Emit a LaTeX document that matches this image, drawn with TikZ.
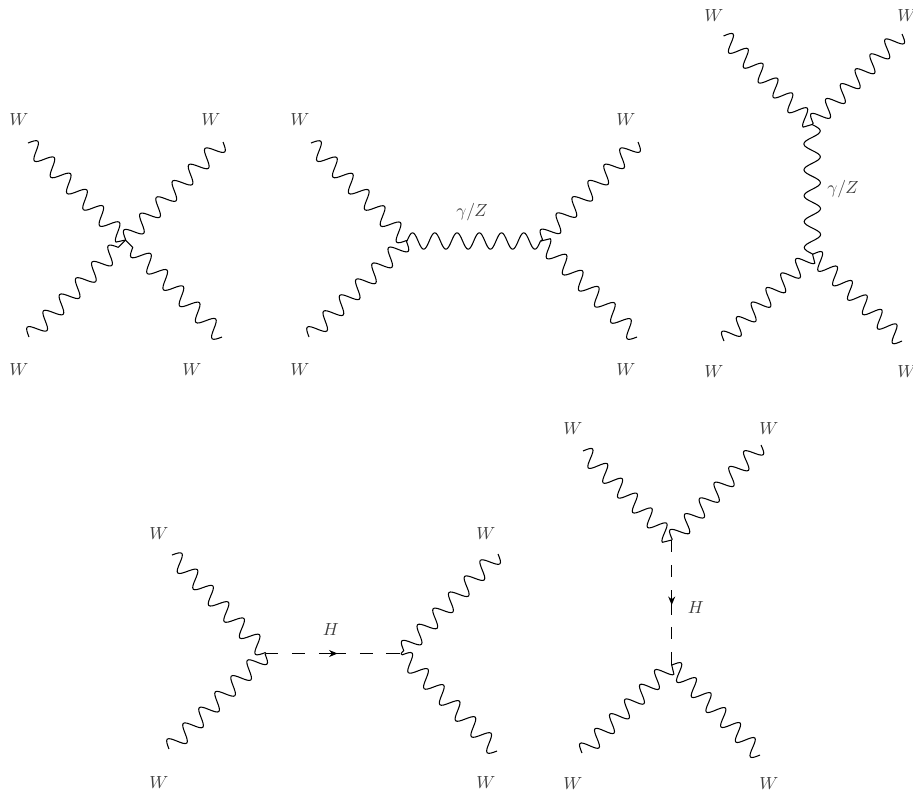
\documentclass[tikz,border=0pt]{standalone}
\usetikzlibrary{decorations,decorations.markings,arrows.meta}
\pgfdeclaredecoration{wiggly}{initial}{
	\state{initial}[width=.25\pgfdecorationsegmentlength, next state=down]{
		\pgfpathcurveto{\pgfpoint{.0815\pgfdecorationsegmentlength}{.5123\pgfdecorationsegmentamplitude}}{\pgfpoint{.1595\pgfdecorationsegmentlength}{\pgfdecorationsegmentamplitude}}{\pgfpoint{.25\pgfdecorationsegmentlength}{\pgfdecorationsegmentamplitude}}
	}
	\state{down}[switch if less than=.7\pgfdecorationsegmentlength to enddown, width=.5\pgfdecorationsegmentlength, next state=up]{
		\pgfpathcurveto{\pgfpoint{.0905\pgfdecorationsegmentlength}{\pgfdecorationsegmentamplitude}}{\pgfpoint{.1685\pgfdecorationsegmentlength}{.5123\pgfdecorationsegmentamplitude}}{\pgfpoint{.25\pgfdecorationsegmentlength}{0pt}}
		\pgfpathcurveto{\pgfpoint{.3315\pgfdecorationsegmentlength}{-.5123\pgfdecorationsegmentamplitude}}{\pgfpoint{.4095\pgfdecorationsegmentlength}{-\pgfdecorationsegmentamplitude}}{\pgfpoint{.5\pgfdecorationsegmentlength}{-\pgfdecorationsegmentamplitude}}
	}
	\state{up}[switch if less than=.7\pgfdecorationsegmentlength to endup, width=.5\pgfdecorationsegmentlength, next state=down]{
		\pgfpathcurveto{\pgfpoint{.0905\pgfdecorationsegmentlength}{-\pgfdecorationsegmentamplitude}}{\pgfpoint{.1685\pgfdecorationsegmentlength}{-.5123\pgfdecorationsegmentamplitude}}{\pgfpoint{.25\pgfdecorationsegmentlength}{0pt}}
		\pgfpathcurveto{\pgfpoint{.3315\pgfdecorationsegmentlength}{.5123\pgfdecorationsegmentamplitude}}{\pgfpoint{.4095\pgfdecorationsegmentlength}{\pgfdecorationsegmentamplitude}}{\pgfpoint{.5\pgfdecorationsegmentlength}{\pgfdecorationsegmentamplitude}}
	}
	\state{enddown}[width=.25\pgfdecorationsegmentlength, next state=final]{
		\pgfpathcurveto{\pgfpoint{.0905\pgfdecorationsegmentlength}{\pgfdecorationsegmentamplitude}}{\pgfpoint{.1685\pgfdecorationsegmentlength}{.5123\pgfdecorationsegmentamplitude}}{\pgfpoint{.25\pgfdecorationsegmentlength}{0pt}}
	}
	\state{endup}[width=.25\pgfdecorationsegmentlength, next state=final]{
		\pgfpathcurveto{\pgfpoint{.0905\pgfdecorationsegmentlength}{-\pgfdecorationsegmentamplitude}}{\pgfpoint{.1685\pgfdecorationsegmentlength}{-.5123\pgfdecorationsegmentamplitude}}{\pgfpoint{.25\pgfdecorationsegmentlength}{0pt}}
	}
	\state{final}{\pgfpathlineto{\pgfpointdecoratedpathlast}}
}
\tikzset{
	wboson/.style={decorate, decoration={wiggly, segment length=#1, amplitude=0.165cm}},
	wboson/.default=0.455cm,
	higgsarrow/.style={postaction={decorate},
		decoration={markings, mark=at position #1 with {\arrow{Stealth[length=0.17cm, width=0.14cm]}}}},
	lab/.style={text=black!75, inner sep=0pt},
}
\begin{document}
\begin{tikzpicture}[x=0.02cm, y=-0.02cm, line join=round, line width=0.6pt]
		\useasboundingbox (0,0) rectangle (913,792);
		% top left
		\coordinate (A1) at (28,143);
		\coordinate (B1) at (223,142);
		\coordinate (C1) at (29,337);
		\coordinate (D1) at (222,337);
		\coordinate (O1) at (125.5,240);
		\foreach \p in {A1,B1,C1,D1}
		\draw[wboson=0.46cm] (\p)--(O1);
		% top middle
		\coordinate (A2) at (311,143);
		\coordinate (B2) at (638,142);
		\coordinate (C2) at (309,337);
		\coordinate (D2) at (637,337);
		\coordinate (O2) at (407,241);
		\coordinate (P2) at (541,241);
		\foreach \p in {A2,C2}
		\draw[wboson] (\p)--(O2);
		\draw[wboson=0.445cm] (O2)--(P2);
		\foreach \p in {B2,D2}
		\draw[wboson] (\p)--(P2);
		% top right
		\coordinate (A3) at (723.5,36);
		\coordinate (B3) at (902,34);
		\coordinate (C3) at (724,341);
		\coordinate (D3) at (902,341);
		\coordinate (O3) at (812,124.5);
		\coordinate (P3) at (812.5,254);
		\foreach \p in {A3,B3}
		\draw[wboson=0.42cm] (\p)--(O3);
		\draw[wboson=0.518cm] (O3)--(P3);
		\foreach \p in {C3,D3}
		\draw[wboson=0.415cm] (\p)--(P3);
		% bottom left
		\coordinate (A4) at (172,555);
		\coordinate (B4) at (498,554);
		\coordinate (C4) at (169,749);
		\coordinate (D4) at (497,751);
		\coordinate (O4) at (266,653.5);
		\coordinate (P4) at (401,653.5);
		\foreach \p in {A4,C4}
		\draw[wboson=0.45cm] (\p)--(O4);
		\draw[higgsarrow=0.53, dash pattern=on 0.24cm off 0.28cm on 0.26cm off 0.28cm on 0.54cm off 0.28cm on 0.26cm off 0.26cm on 0.28cm] (O4)--(P4);
		\foreach \p in {B4,D4}
		\draw[wboson=0.45cm] (\p)--(P4);
		% bottom right
		\coordinate (A5) at (583,451);
		\coordinate (B5) at (761,445);
		\coordinate (C5) at (582,753);
		\coordinate (D5) at (760,755);
		\coordinate (O5) at (671.7,540);
		\coordinate (P5) at (671.7,665);
		\draw[wboson=0.42cm] (A5)--(O5);
		\draw[wboson=0.432cm] (B5)--(O5);
		\draw[higgsarrow=0.52, dash pattern=on 0.24cm off 0.26cm on 0.24cm off 0.26cm on 0.5cm off 0.24cm on 0.24cm off 0.26cm on 0.28cm] (O5)--(P5);
		\foreach \p in {C5,D5}
		\draw[wboson=0.42cm] (\p)--(P5);
		% labels
		\foreach \n/\x/\y in {a/19/119, b/211/119, c/19/369, d/192/369,
			e/300/119, f/626/119, g/300/369, h/626/369,
			i/714/15, j/907/15, k/714/371, l/907/371,
			m/159/533, n/486/533, o/159/782, p/486/782,
			q/573/428, r/769/428, s/573/783, t/769/783}
		\node[lab] (w\n) at (\x,\y) {$W$};
		\node[lab] (vz1) at (472,212) {$\gamma/Z$};
		\node[lab] (vz2) at (843,189) {$\gamma/Z$};
		\node[lab] (h1) at (331,629) {$H$};
		\node[lab] (h2) at (696,607) {$H$};
	\end{tikzpicture}
\end{document}
